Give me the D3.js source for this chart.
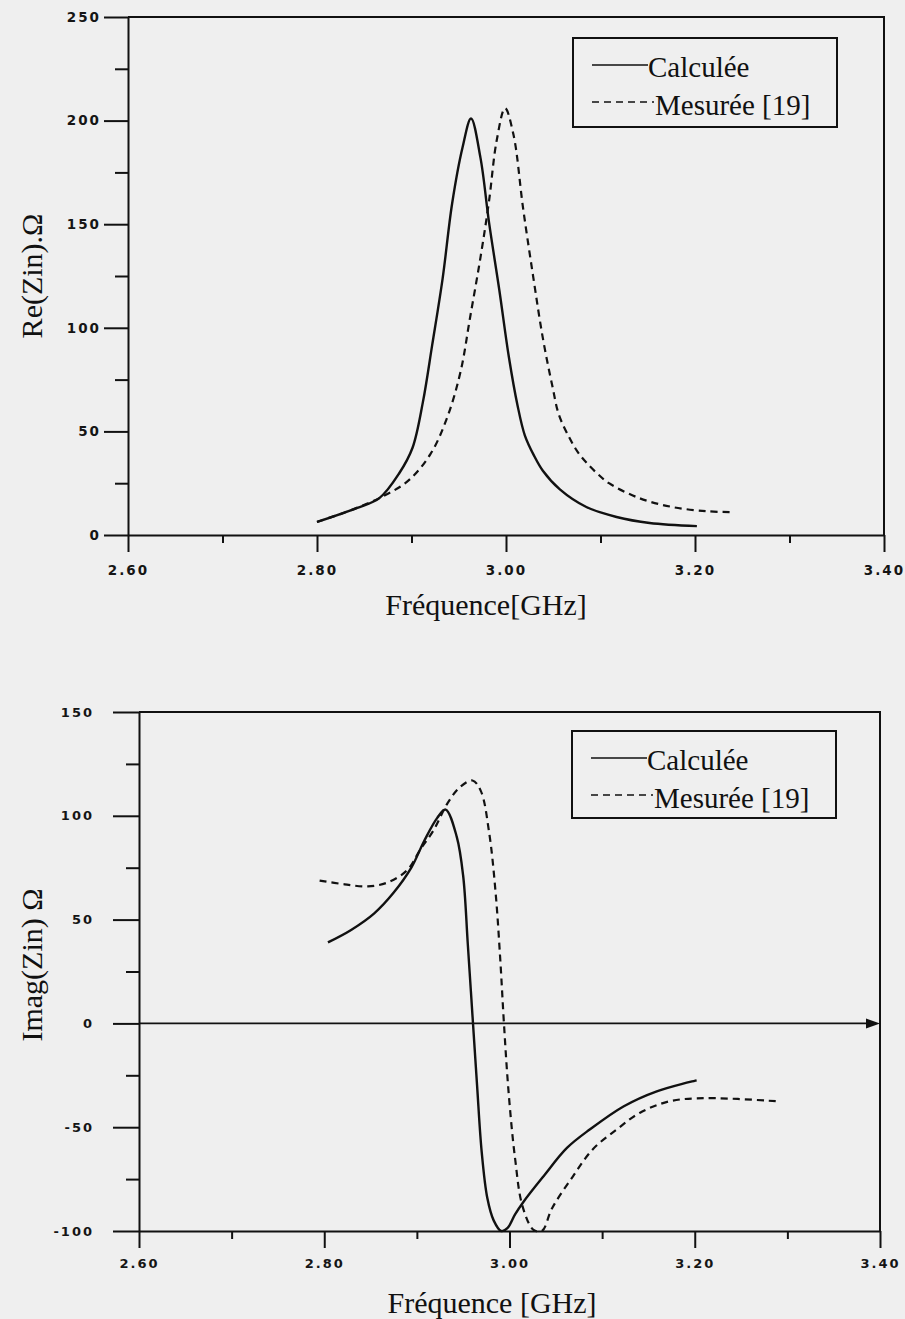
<!DOCTYPE html>
<html lang="fr">
<head>
<meta charset="UTF-8">
<title>Re(Zin) et Imag(Zin)</title>
<style>
  body { margin: 0; background: #efefef; }
  svg { display: block; }
  .tick text { font-family: "DejaVu Sans", sans-serif; font-weight: bold; letter-spacing: 2px; fill: #151515; }
  .titre { font-family: "Liberation Serif", "Times New Roman", serif; fill: #111; }
  .axe path, .axe line { stroke: #111; stroke-width: 2; }
</style>
<script src="https://d3js.org/d3.v7.min.js"></script>
</head>
<body>
<svg width="905" height="1319"></svg>
<script>
// fréquences en GHz, valeurs en ohms
const xTicks = [2.6, 2.8, 3.0, 3.2, 3.4];
const xMinor = [2.7, 2.9, 3.1, 3.3];
const reTicks = [0, 50, 100, 150, 200, 250];
const reMinor = [25, 75, 125, 175, 225];
const imTicks = [-100, -50, 0, 50, 100, 150];
const imMinor = [-75, -25, 25, 75, 125];
const legende = ["Calculée", "Mesurée [19]"];

const reCalculee = [
  [2.800, 6.3], [2.842, 13], [2.866, 17.8], [2.887, 29.8], [2.901, 42], [2.912, 64],
  [2.922, 92], [2.933, 124], [2.943, 160], [2.954, 187], [2.963, 201], [2.973, 182],
  [2.982, 151], [2.993, 118], [3.003, 86], [3.012, 63], [3.020, 48], [3.030, 38],
  [3.039, 31], [3.057, 22], [3.085, 13.5], [3.117, 8.7], [3.152, 5.8], [3.202, 4.3]
];
const reMesuree = [
  [2.800, 6.3], [2.833, 11.5], [2.866, 17.8], [2.896, 26], [2.920, 39], [2.938, 57],
  [2.952, 79], [2.962, 105], [2.973, 134], [2.982, 161], [2.990, 190], [2.999, 206],
  [3.008, 193], [3.018, 158], [3.029, 124], [3.039, 95], [3.049, 72], [3.056, 58],
  [3.067, 47], [3.076, 40], [3.085, 35], [3.097, 29.5], [3.109, 25], [3.141, 17.8],
  [3.176, 13.5], [3.212, 11.5], [3.240, 11]
];
const imCalculee = [
  [2.804, 39], [2.829, 45], [2.854, 53], [2.875, 63], [2.894, 75], [2.908, 88],
  [2.922, 99], [2.931, 103], [2.943, 90], [2.950, 71], [2.955, 38], [2.960, 4],
  [2.965, -30], [2.970, -62], [2.976, -84], [2.983, -95], [2.991, -100], [2.998, -98.5],
  [3.006, -92], [3.015, -86], [3.037, -73.5], [3.062, -60], [3.087, -51], [3.123, -40],
  [3.159, -32.7], [3.202, -27.4]
];
const imMesuree = [
  [2.795, 68.8], [2.822, 67], [2.847, 66], [2.869, 68], [2.890, 74], [2.904, 84],
  [2.918, 93], [2.933, 106], [2.947, 114], [2.960, 117], [2.969, 112], [2.978, 92],
  [2.985, 63], [2.990, 31], [2.994, 0], [2.999, -33], [3.006, -65], [3.014, -88],
  [3.026, -99.5], [3.035, -100], [3.046, -89], [3.068, -74], [3.090, -60.6],
  [3.116, -51], [3.141, -43], [3.173, -37.5], [3.213, -36], [3.288, -37.5]
];

const svg = d3.select("svg");

function graphe(o) {
  const g = svg.append("g");
  const x = d3.scaleLinear().domain([2.6, 3.4]).range(o.xr);
  const y = d3.scaleLinear().domain(o.yDom).range(o.yr);
  const x0 = o.xr[0], x1 = o.xr[1], yb = o.yr[0], yt = o.yr[1];

  // cadre haut et droit
  g.append("path")
    .attr("d", `M${x0},${yt}H${x1}V${yb}`)
    .attr("fill", "none").attr("stroke", "#111").attr("stroke-width", 2);

  // axe y (tiret simple pour les négatifs, comme sur l'original)
  g.append("g").attr("class", "axe").attr("transform", `translate(${x0},0)`)
    .call(d3.axisLeft(y).tickValues(o.yTicks).tickSize(o.yTick).tickSizeOuter(0)
      .tickPadding(o.yPad).tickFormat(d => String(d)))
    .selectAll("text").style("font-size", o.fs + "px");
  g.append("g").attr("class", "axe").attr("transform", `translate(${x0},0)`)
    .call(d3.axisLeft(y).tickValues(o.yMinor).tickSize(13).tickFormat(""))
    .select(".domain").remove();

  // axe x
  g.append("g").attr("class", "axe").attr("transform", `translate(0,${yb})`)
    .call(d3.axisBottom(x).tickValues(xTicks).tickSize(17).tickSizeOuter(0)
      .tickPadding(o.xPad).tickFormat(d3.format(".2f")))
    .selectAll("text").style("font-size", o.fs + "px");
  g.append("g").attr("class", "axe").attr("transform", `translate(0,${yb})`)
    .call(d3.axisBottom(x).tickValues(xMinor).tickSize(8).tickFormat(""))
    .select(".domain").remove();

  // ligne du zéro avec flèche
  if (o.zero) {
    g.append("line")
      .attr("x1", x0).attr("x2", x1 - 10)
      .attr("y1", y(0)).attr("y2", y(0))
      .attr("stroke", "#111").attr("stroke-width", 1.6);
    g.append("path")
      .attr("d", `M${x1 - 14},${y(0) - 5}L${x1},${y(0)}L${x1 - 14},${y(0) + 5}Z`)
      .attr("fill", "#111");
  }

  // courbes
  const ligne = d3.line().x(d => x(d[0])).y(d => y(d[1])).curve(d3.curveCatmullRom.alpha(0.5));
  g.append("path").datum(o.calc).attr("d", ligne)
    .attr("fill", "none").attr("stroke", "#111").attr("stroke-width", 2.4);
  g.append("path").datum(o.mes).attr("d", ligne)
    .attr("fill", "none").attr("stroke", "#111").attr("stroke-width", 2.2)
    .attr("stroke-dasharray", "7,5");

  // titres
  g.append("text").attr("class", "titre")
    .attr("x", o.xt[0]).attr("y", o.xt[1]).attr("text-anchor", "middle")
    .style("font-size", "30px").text(o.xTitre);
  g.append("text").attr("class", "titre")
    .attr("transform", `translate(${o.yt[0]},${o.yt[1]}) rotate(-90)`)
    .attr("text-anchor", "middle")
    .style("font-size", "30px").text(o.yTitre);

  // légende
  const lg = g.append("g").attr("transform", `translate(${o.lg[0]},${o.lg[1]})`);
  lg.append("rect").attr("width", 264).attr("height", o.lg[2])
    .attr("fill", "none").attr("stroke", "#111").attr("stroke-width", 2);
  const rangs = [
    { ly: 27, ty: 39, x2: 75, tx: 75, dash: null },
    { ly: 64, ty: 77, x2: 81, tx: 82, dash: "7,5" }
  ];
  legende.forEach((nom, i) => {
    const r = rangs[i];
    lg.append("line").attr("x1", 19).attr("x2", r.x2).attr("y1", r.ly).attr("y2", r.ly)
      .attr("stroke", "#111").attr("stroke-width", 1.6)
      .attr("stroke-dasharray", r.dash);
    lg.append("text").attr("class", "titre").attr("x", r.tx).attr("y", r.ty)
      .style("font-size", "29px").text(nom);
  });
}

graphe({
  xr: [128, 884], yDom: [0, 250], yr: [535, 17],
  yTicks: reTicks, yMinor: reMinor, yTick: 24, yPad: 3, xPad: 13, fs: 13.5,
  calc: reCalculee, mes: reMesuree, zero: false,
  xTitre: "Fréquence[GHz]", xt: [486, 615],
  yTitre: "Re(Zin).Ω", yt: [42, 276],
  lg: [573, 38, 89]
});

graphe({
  xr: [139, 880], yDom: [-100, 150], yr: [1231, 712],
  yTicks: imTicks, yMinor: imMinor, yTick: 26, yPad: 19, xPad: 11, fs: 13,
  calc: imCalculee, mes: imMesuree, zero: true,
  xTitre: "Fréquence [GHz]", xt: [492, 1313],
  yTitre: "Imag(Zin) Ω", yt: [42, 965],
  lg: [572, 731, 87]
});
</script>
</body>
</html>
